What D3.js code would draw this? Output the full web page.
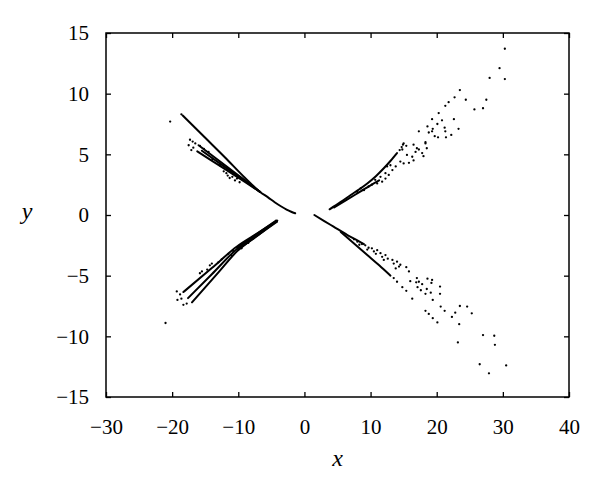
<!DOCTYPE html>
<html>
<head><meta charset="utf-8"></head>
<body style="margin:0;background:#fff">
<svg width="600" height="495"></svg>
<script src="https://d3js.org/d3.v7.min.js"></script>
<script>
// tick values
const xTicks = [-30, -20, -10, 0, 10, 20, 30, 40];
const yTicks = [-15, -10, -5, 0, 5, 10, 15];

// dense runs of points that print as solid strokes, [x, y]
const ulLineA = [[-18.4, 8.2], [-15, 6.36], [-12, 4.74], [-9, 3.07], [-6.7, 1.9], [-5.5, 1.45], [-4.5, 1.05], [-3.5, 0.7], [-2.7, 0.45], [-2.0, 0.27], [-1.4, 0.14]];
const ulLineB = [[-16.0, 5.75], [-12, 4.1], [-9, 2.87], [-6.7, 1.9]];
const ulLineC = [[-15.5, 5.3], [-12, 3.95], [-9, 2.8], [-6.7, 1.9]];
const ulLineD = [[-16.2, 5.25], [-12, 3.78], [-9, 2.73], [-6.7, 1.9]];

const llLine1 = [[-18.3, -6.35], [-14, -4.37], [-10.2, -2.6], [-7, -1.48], [-4.13, -0.47]];
const llLine2 = [[-17.6, -6.85], [-14, -4.88], [-10.2, -2.8], [-7, -1.58], [-4.13, -0.47]];
const llLine3 = [[-17.0, -7.2], [-13, -4.73], [-10.2, -3.0], [-7, -1.66], [-4.13, -0.47]];
const llWedge = [[-10.2, -2.8], [-7, -1.57], [-4.13, -0.47]];

const urLine1 = [[3.8, 0.47], [5.5, 1.08], [7.0, 1.65], [8.3, 2.12], [9.5, 2.6], [10.8, 3.2], [12.0, 3.85], [13.0, 4.45], [14.0, 5.1]];
const urLine2 = [[4.5, 0.62], [6.5, 1.28], [8.5, 1.95], [10, 2.45], [11.3, 2.85]];

const lrLine1 = [[1.5, 0.0], [3.0, -0.5], [4.4, -0.96], [6.5, -1.65], [8.0, -2.1], [9.0, -2.4]];
const lrLine2 = [[5.5, -1.4], [7.5, -2.35], [9.5, -3.3], [11.3, -4.15], [13.0, -5.0]];

// scattered points, [x, y]
const ulDots = [[-20.3, 7.7], [-18.6, 8.3], [-17.3, 6.2], [-16.9, 6.05], [-17.5, 5.75], [-16.8, 5.55], [-17.1, 5.35], [-16.5, 5.9],
  [-15.8, 5.7], [-15.2, 5.45], [-14.5, 5.2], [-13.9, 4.6], [-12.8, 4.1], [-12.2, 3.6], [-11.8, 3.45], [-11.6, 3.25], [-11.3, 3.05],
  [-10.9, 3.15], [-10.5, 2.85], [-10.2, 3.0], [-9.8, 2.7]];

const llDots = [[-21.0, -8.9], [-19.3, -6.3], [-19.2, -7.0], [-18.6, -6.9], [-18.3, -7.4], [-17.8, -7.3], [-18.8, -6.55],
  [-15.8, -4.8], [-15.5, -4.65], [-14.7, -4.5], [-14.3, -4.15], [-14.0, -4.0], [-13.0, -3.9], [-12.5, -3.65], [-11.5, -3.2],
  [-11, -3.35], [-10.8, -2.95], [-9.8, -2.55], [-9.5, -2.75], [-9.0, -2.4], [-8.5, -2.3]];

const urDots = [[8.0, 1.9], [8.5, 2.2], [9.0, 2.05], [9.7, 2.35], [10.2, 2.5], [11.0, 2.6], [11.75, 2.75], [10.7, 2.9], [11.5, 3.15],
  [12.25, 3.0], [12.75, 3.3], [12.25, 3.45], [13.3, 3.7], [13.0, 4.1], [13.8, 4.0], [12.5, 4.0], [14.5, 4.4], [15.0, 4.25], [15.8, 4.3],
  [16.5, 4.5], [16.3, 4.8], [15.5, 4.95], [16.8, 5.2], [17.3, 5.4], [17.8, 5.1], [18.0, 4.85], [15.4, 5.7], [14.8, 5.4], [15.0, 5.9],
  [16.5, 5.8], [18.3, 5.9], [14.4, 5.35], [14.7, 5.6], [14.9, 5.8], [17.0, 5.5], [18.5, 5.5], [18.3, 6.0],
  [17.3, 6.9], [18.6, 7.3], [19.3, 6.9], [20.1, 7.5], [19.3, 7.9], [20.8, 7.8], [22.6, 7.9], [20.3, 8.4], [19.4, 7.1], [21.2, 7.2],
  [23.3, 7.1], [18.8, 6.8], [21.3, 6.9], [19.7, 6.5], [20.2, 6.4], [21.4, 6.4], [22.2, 6.6], [21.3, 9.0], [21.8, 9.3], [22.7, 9.7],
  [23.5, 10.3], [24.4, 9.5], [25.7, 8.7], [27.0, 8.8], [27.5, 9.5], [28.0, 11.3], [29.5, 12.1], [30.3, 11.2], [30.3, 13.7]];

const lrDots = [[7.5, -2.0], [8.0, -2.2], [8.3, -2.45], [8.7, -2.4], [9.2, -2.5], [9.5, -2.85], [9.7, -2.7], [10.2, -2.75], [10.5, -3.0],
  [10.8, -3.2], [11.0, -2.9], [11.5, -3.15], [11.75, -3.45], [12.0, -3.7], [12.25, -3.3], [12.6, -3.6], [13.3, -3.7], [13.5, -4.0],
  [14.0, -3.85], [14.3, -4.25], [13.8, -4.4], [14.5, -4.1], [15.4, -4.3], [15.8, -4.65],
  [13.5, -5.2], [14.0, -5.5], [14.8, -5.95], [15.4, -6.25], [16.3, -6.9],
  [16.0, -5.45], [17.0, -5.2], [16.9, -5.55], [17.3, -5.5], [17.8, -5.7], [17.1, -5.95], [17.6, -6.2], [18.5, -6.1], [18.3, -6.5],
  [18.6, -5.25], [19.2, -5.6], [19.1, -6.4], [19.3, -5.35], [20.5, -5.9], [20.5, -6.5], [19.4, -7.0], [20.6, -7.55], [21.2, -7.9],
  [18.3, -7.9], [18.8, -8.15], [19.4, -8.5], [20.1, -8.85], [22.3, -8.4], [22.8, -8.05], [23.5, -7.5], [24.6, -7.55], [25.3, -8.1],
  [23.4, -9.0], [23.2, -10.5], [27.0, -9.9], [28.7, -9.95], [28.8, -10.7], [26.5, -12.3], [27.9, -13.05], [30.5, -12.4]];

const svg = d3.select("svg");
const plotLeft = 106, plotRight = 569, plotTop = 33, plotBottom = 397;

const x = d3.scaleLinear().domain([-30, 40]).range([plotLeft, plotRight]);
const y = d3.scaleLinear().domain([-15, 15]).range([plotBottom, plotTop]);

const font = "'Liberation Serif', 'DejaVu Serif', serif";

// points
const line = d3.line().x(d => x(d[0])).y(d => y(d[1])).curve(d3.curveMonotoneX);
const traces = [ulLineA, ulLineB, ulLineC, ulLineD, llLine1, llLine2, llLine3, urLine1, urLine2, lrLine1, lrLine2];
svg.append("g").selectAll("path")
  .data(traces)
  .enter().append("path")
  .attr("d", line)
  .attr("fill", "none")
  .attr("stroke", "#000")
  .attr("stroke-width", 2)
  .attr("stroke-linecap", "round");
svg.append("path")
  .attr("d", line(llWedge))
  .attr("fill", "none")
  .attr("stroke", "#000")
  .attr("stroke-width", 3.5);

const dots = [].concat(ulDots, llDots, urDots, lrDots);
svg.append("g").selectAll("circle")
  .data(dots)
  .enter().append("circle")
  .attr("cx", d => x(d[0]))
  .attr("cy", d => y(d[1]))
  .attr("r", 1.15)
  .attr("fill", "#000");

// axes, ticks inward on all four sides
const tl = 5;
svg.append("g").attr("transform", `translate(0,${plotBottom})`)
  .call(d3.axisBottom(x).tickValues(xTicks).tickSizeInner(-tl).tickSizeOuter(0).tickPadding(22))
  .call(g => g.select(".domain").remove());
svg.append("g").attr("transform", `translate(0,${plotTop})`)
  .call(d3.axisTop(x).tickValues(xTicks).tickSizeInner(-tl).tickSizeOuter(0).tickFormat(""))
  .call(g => g.select(".domain").remove());
svg.append("g").attr("transform", `translate(${plotLeft},0)`)
  .call(d3.axisLeft(y).tickValues(yTicks).tickSizeInner(-tl).tickSizeOuter(0).tickPadding(17))
  .call(g => g.select(".domain").remove());
svg.append("g").attr("transform", `translate(${plotRight},0)`)
  .call(d3.axisRight(y).tickValues(yTicks).tickSizeInner(-tl).tickSizeOuter(0).tickFormat(""))
  .call(g => g.select(".domain").remove());

svg.selectAll(".tick line").attr("stroke", "#000").attr("stroke-width", 1.3);
svg.selectAll(".tick text").attr("fill", "#000").style("font-family", font).style("font-size", "21px");

svg.append("rect")
  .attr("x", plotLeft).attr("y", plotTop)
  .attr("width", plotRight - plotLeft).attr("height", plotBottom - plotTop)
  .attr("fill", "none").attr("stroke", "#000").attr("stroke-width", 1.5);

svg.append("text")
  .attr("x", (plotLeft + plotRight) / 2).attr("y", 466)
  .attr("text-anchor", "middle")
  .style("font-family", font).style("font-style", "italic").style("font-size", "24px")
  .text("x");
svg.append("text")
  .attr("x", 27).attr("y", 219)
  .attr("text-anchor", "middle")
  .style("font-family", font).style("font-style", "italic").style("font-size", "24px")
  .text("y");
</script>
</body>
</html>
